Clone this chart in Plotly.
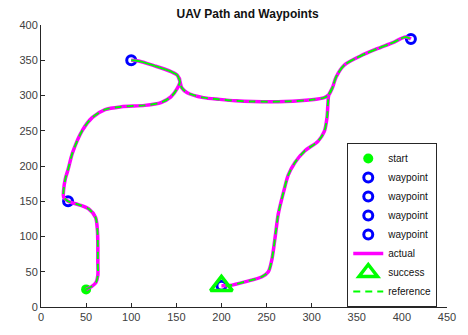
import plotly.graph_objects as go

# Flight path (x, y) in metres: start -> wp1 -> wp2 -> wp3 -> wp4
path_x = [50, 56, 61, 63, 63, 63, 62.5, 60.5, 53, 42, 30,
          25, 25, 27, 30, 35, 46, 57, 71, 89, 115, 133, 144, 151, 154, 151, 144, 126, 108, 100,
          108, 126, 144, 151, 154, 156, 162, 180, 198, 216, 235, 270, 300, 314, 319, 323, 327,
          336, 354, 372, 390, 404, 410,
          404, 390, 372, 354, 336, 327, 323, 319, 318, 317, 314, 307, 292, 281.5, 274, 269, 263,
          260, 256, 252, 245, 227, 209, 200]
path_y = [25, 29, 35, 45, 63, 87, 109, 127, 139, 145, 150,
          156, 165, 182, 195, 219, 251, 269, 280, 284, 286, 290, 298, 310, 320, 329, 334, 342, 349, 350,
          349, 342, 334, 329, 320, 311, 304, 297, 294.5, 292.5, 291.5, 291.5, 294, 297, 301, 311, 326,
          343, 356, 366, 375, 383, 380,
          383, 375, 366, 356, 343, 326, 311, 301, 288, 269, 249, 235, 221, 205, 187, 164, 132,
          104, 68, 50, 43, 36, 30.5, 30]

start_xy = (50, 25)
waypoints_x = [30, 100, 410, 200]
waypoints_y = [150, 350, 380, 30]
success_xy = (200, 30)

x_ticks = list(range(0, 451, 50))
y_ticks = list(range(0, 401, 50))

MAGENTA = "#FF00FF"
GREEN = "#00FF00"
BLUE = "#0000FF"
AXIS = "#262626"
FONT = "Liberation Sans, Arial, sans-serif"

fig = go.Figure()

fig.add_trace(go.Scatter(
    x=[start_xy[0]], y=[start_xy[1]], mode="markers", name="start",
    marker=dict(symbol="circle", size=10, color=GREEN, line=dict(width=0)),
))
for wx, wy in zip(waypoints_x, waypoints_y):
    fig.add_trace(go.Scatter(
        x=[wx], y=[wy], mode="markers", name="waypoint",
        marker=dict(symbol="circle-open", size=9, color=BLUE, line=dict(width=3, color=BLUE)),
    ))
fig.add_trace(go.Scatter(
    x=path_x, y=path_y, mode="lines", name="actual",
    line=dict(color=MAGENTA, width=3.5, shape="spline", smoothing=0.8),
))
fig.add_trace(go.Scatter(
    x=[success_xy[0]], y=[success_xy[1]], mode="markers", name="success",
    marker=dict(symbol="triangle-up-open", size=19, color=GREEN, line=dict(width=3.5, color=GREEN)),
))
fig.add_trace(go.Scatter(
    x=path_x, y=path_y, mode="lines", name="reference",
    line=dict(color=GREEN, width=2, dash="7px,5px", shape="spline", smoothing=0.8),
))

axis_common = dict(
    showgrid=False, zeroline=False, showline=True, linecolor=AXIS, linewidth=1,
    ticks="inside", ticklen=4, tickcolor=AXIS, mirror=False,
    tickfont=dict(family=FONT, size=11, color="#404040"),
)
fig.update_xaxes(range=[0, 450], tickvals=x_ticks, **axis_common)
fig.update_yaxes(range=[0, 400], tickvals=y_ticks, **axis_common)

fig.update_layout(
    width=468, height=335,
    margin=dict(l=41, r=14, t=25, b=19),
    paper_bgcolor="white", plot_bgcolor="white",
    title=dict(text="<b>UAV Path and Waypoints</b>", x=0.529, xanchor="center",
               y=1 - 14 / 335, yanchor="middle",
               font=dict(family=FONT, size=12, color="#111")),
    legend=dict(x=0.976, xanchor="right", y=0.0, yanchor="bottom",
                bgcolor="white", bordercolor=AXIS, borderwidth=1,
                font=dict(family=FONT, size=10, color="#111"),
                tracegroupgap=0, itemwidth=30),
    showlegend=True,
)

fig.write_html("out.html")
